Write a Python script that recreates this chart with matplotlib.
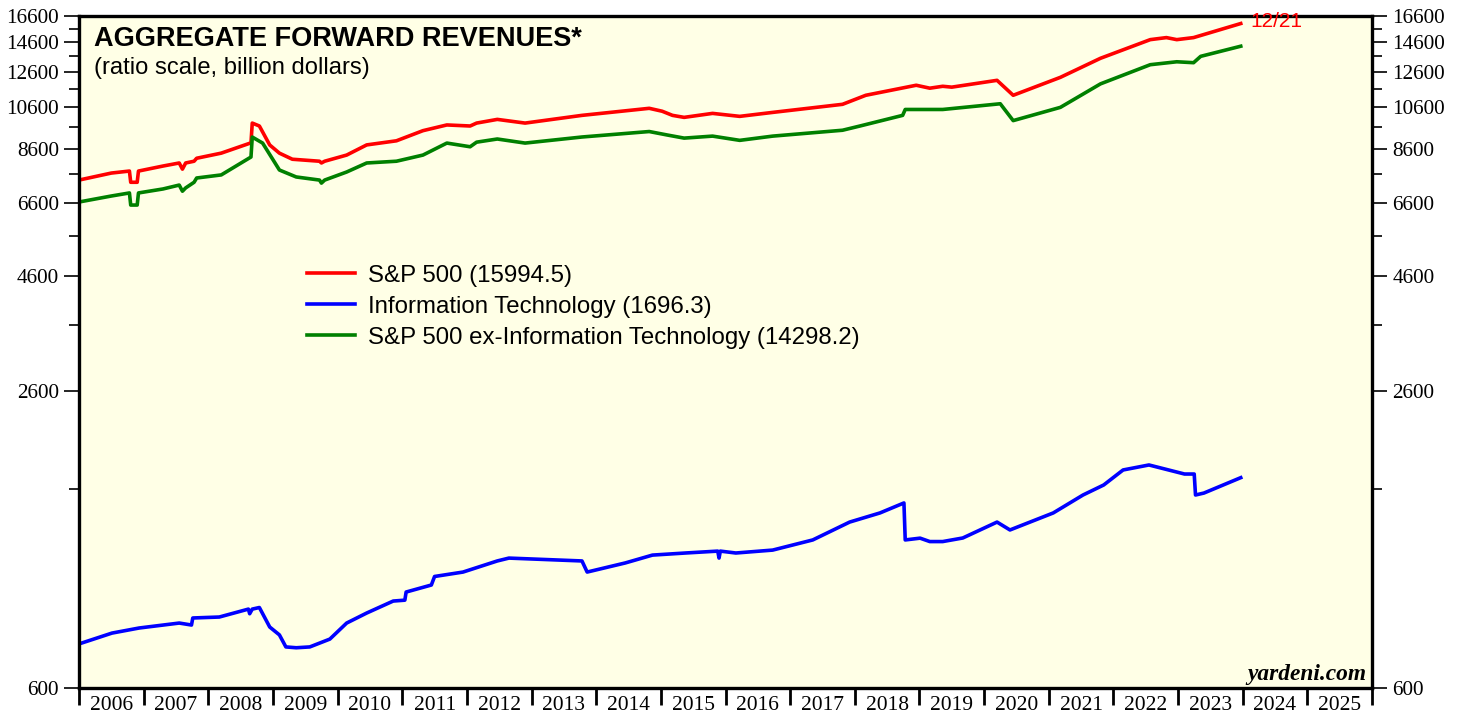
import matplotlib
matplotlib.use("Agg")
import matplotlib.pyplot as plt
from matplotlib.ticker import FixedLocator, NullFormatter

# dates as decimal years, values in billion dollars
sp_dates = [2006.0, 2006.5, 2006.78, 2006.8, 2006.9, 2006.92, 2007.3, 2007.55, 2007.6, 2007.65,
            2007.78, 2007.82, 2008.2, 2008.66, 2008.68, 2008.79, 2008.95, 2009.1, 2009.3, 2009.72,
            2009.75, 2009.8, 2010.14, 2010.45, 2010.91, 2011.32, 2011.69, 2012.05, 2012.15, 2012.47,
            2012.9, 2013.78, 2014.82, 2015.02, 2015.18, 2015.36, 2015.8, 2016.22, 2016.73, 2017.81,
            2018.17, 2018.95, 2019.16, 2019.36, 2019.5, 2020.2, 2020.45, 2021.18, 2021.8, 2022.57,
            2022.82, 2022.98, 2023.24, 2023.97]
sp_vals = [7380, 7640, 7716, 7300, 7300, 7716, 7910, 8030, 7790, 8030,
           8100, 8220, 8430, 8870, 9780, 9640, 8777, 8430, 8180, 8100,
           8030, 8100, 8350, 8780, 8960, 9420, 9690, 9640, 9780, 9960,
           9780, 10160, 10520, 10370, 10160, 10060, 10260, 10110, 10310, 10730,
           11220, 11790, 11620, 11730, 11680, 12080, 11220, 12260, 13470, 14770,
           14920, 14770, 14920, 15994.5]

it_dates = [2006.0, 2006.51, 2006.93, 2007.55, 2007.74, 2007.76, 2008.17, 2008.62, 2008.64, 2008.68,
            2008.79, 2008.95, 2009.1, 2009.2, 2009.36, 2009.57, 2009.88, 2010.14, 2010.45, 2010.86,
            2011.04, 2011.06, 2011.45, 2011.5, 2011.94, 2012.47, 2012.65, 2013.78, 2013.86, 2014.45,
            2014.87, 2015.38, 2015.88, 2015.9, 2015.92, 2016.16, 2016.73, 2017.35, 2017.92, 2018.39,
            2018.76, 2018.78, 2019.01, 2019.16, 2019.36, 2019.67, 2020.2, 2020.4, 2021.07, 2021.53,
            2021.85, 2022.15, 2022.55, 2023.1, 2023.25, 2023.27, 2023.4, 2023.97]
it_vals = [746, 787, 807, 827, 819, 848, 852, 886, 866, 886,
           893, 811, 780, 735, 732, 735, 764, 827, 869, 922,
           926, 964, 998, 1041, 1064, 1124, 1140, 1124, 1064, 1113,
           1157, 1169, 1180, 1140, 1180, 1169, 1186, 1247, 1362, 1425,
           1497, 1247, 1258, 1237, 1237, 1259, 1362, 1310, 1425, 1557,
           1636, 1762, 1806, 1727, 1727, 1557, 1572, 1696.3]

ex_dates = [2006.0, 2006.5, 2006.78, 2006.8, 2006.9, 2006.92, 2007.3, 2007.55, 2007.6, 2007.65,
            2007.78, 2007.82, 2008.2, 2008.66, 2008.68, 2008.84, 2009.1, 2009.36, 2009.72, 2009.75,
            2009.8, 2010.14, 2010.45, 2010.91, 2011.32, 2011.69, 2012.05, 2012.15, 2012.47, 2012.9,
            2013.78, 2014.82, 2015.1, 2015.36, 2015.8, 2016.22, 2016.73, 2017.81, 2018.08, 2018.74,
            2018.78, 2019.36, 2020.25, 2020.45, 2021.18, 2021.8, 2022.57, 2022.98, 2023.24, 2023.35,
            2023.97]
ex_vals = [6622, 6821, 6925, 6523, 6523, 6925, 7063, 7200, 6985, 7100,
           7300, 7456, 7570, 8270, 9128, 8860, 7756, 7494, 7380, 7270,
           7380, 7680, 8030, 8100, 8350, 8860, 8700, 8900, 9040, 8860,
           9130, 9380, 9220, 9080, 9170, 8980, 9170, 9440, 9640, 10160,
           10460, 10460, 10760, 9900, 10570, 11870, 13050, 13240, 13180, 13600,
           14298.2]

labels = ["S&P 500 (15994.5)", "Information Technology (1696.3)",
          "S&P 500 ex-Information Technology (14298.2)"]
years = list(range(2006, 2026))
major_y = [600, 2600, 4600, 6600, 8600, 10600, 12600, 14600, 16600]
minor_y = [1600, 3600, 5600, 7600, 9600, 11600, 13600, 15600]

sans = ["Liberation Sans", "DejaVu Sans"]
serif = ["Liberation Serif", "DejaVu Serif"]

fig = plt.figure(figsize=(14.68, 7.17), dpi=100)
ax = fig.add_axes([79 / 1468, 29 / 717, (1372 - 79) / 1468, (688 - 16) / 717])
ax.set_facecolor("#FFFFE6")

ax.plot(sp_dates, sp_vals, color="#FF0000", lw=2.6, label=labels[0])
ax.plot(it_dates, it_vals, color="#0000FF", lw=2.6, label=labels[1])
ax.plot(ex_dates, ex_vals, color="#008000", lw=2.6, label=labels[2])

ax.set_yscale("log")
ax.set_ylim(600, 16600)
ax.set_xlim(2006, 2026)

ax.yaxis.set_major_locator(FixedLocator(major_y))
ax.yaxis.set_minor_locator(FixedLocator(minor_y))
ax.yaxis.set_minor_formatter(NullFormatter())
ax.set_yticklabels([str(v) for v in major_y])

ax.xaxis.set_major_locator(FixedLocator(years + [2026]))
ax.xaxis.set_major_formatter(NullFormatter())
ax.xaxis.set_minor_locator(FixedLocator([y + 0.5 for y in years]))
ax.set_xticklabels([str(y) for y in years], minor=True)

ax.tick_params(axis="y", which="major", direction="out", length=11, width=1.2,
               left=True, right=True, labelleft=True, labelright=True, labelsize=15.3, pad=3.5)
ax.tick_params(axis="y", which="minor", direction="out", length=7, width=1.2, left=True, right=True)
ax.tick_params(axis="x", which="major", direction="out", length=12, width=2.0)
ax.tick_params(axis="x", which="minor", length=0, labelsize=15.5, pad=6)
for lab in ax.get_yticklabels() + ax.get_xticklabels(minor=True):
    lab.set_family(serif)

for s in ax.spines.values():
    s.set_linewidth(2.4)
    s.set_color("black")

ax.text(0.0116, 0.9554, "AGGREGATE FORWARD REVENUES*", transform=ax.transAxes,
        fontsize=19.5, fontweight="bold", family=sans, va="baseline")
ax.text(0.0116, 0.913, "(ratio scale, billion dollars)", transform=ax.transAxes,
        fontsize=17.1, family=sans, va="baseline")

ax.annotate("12/21", (sp_dates[-1], sp_vals[-1]), xytext=(10, 2), textcoords="offset pixels",
            color="#FF0000", fontsize=15, family=sans, va="center")

ax.text(0.996, 0.012, "yardeni.com", transform=ax.transAxes, fontsize=16.8,
        fontweight="bold", fontstyle="italic", family=serif, ha="right", va="baseline")

leg = ax.legend(loc="upper left", bbox_to_anchor=(0.176, 0.630), frameon=False,
                prop={"family": sans, "size": 17.3}, handlelength=2.0, handletextpad=0.55,
                labelspacing=0.38, borderpad=0, borderaxespad=0)

fig.savefig("out.png", dpi=100, facecolor="white")
